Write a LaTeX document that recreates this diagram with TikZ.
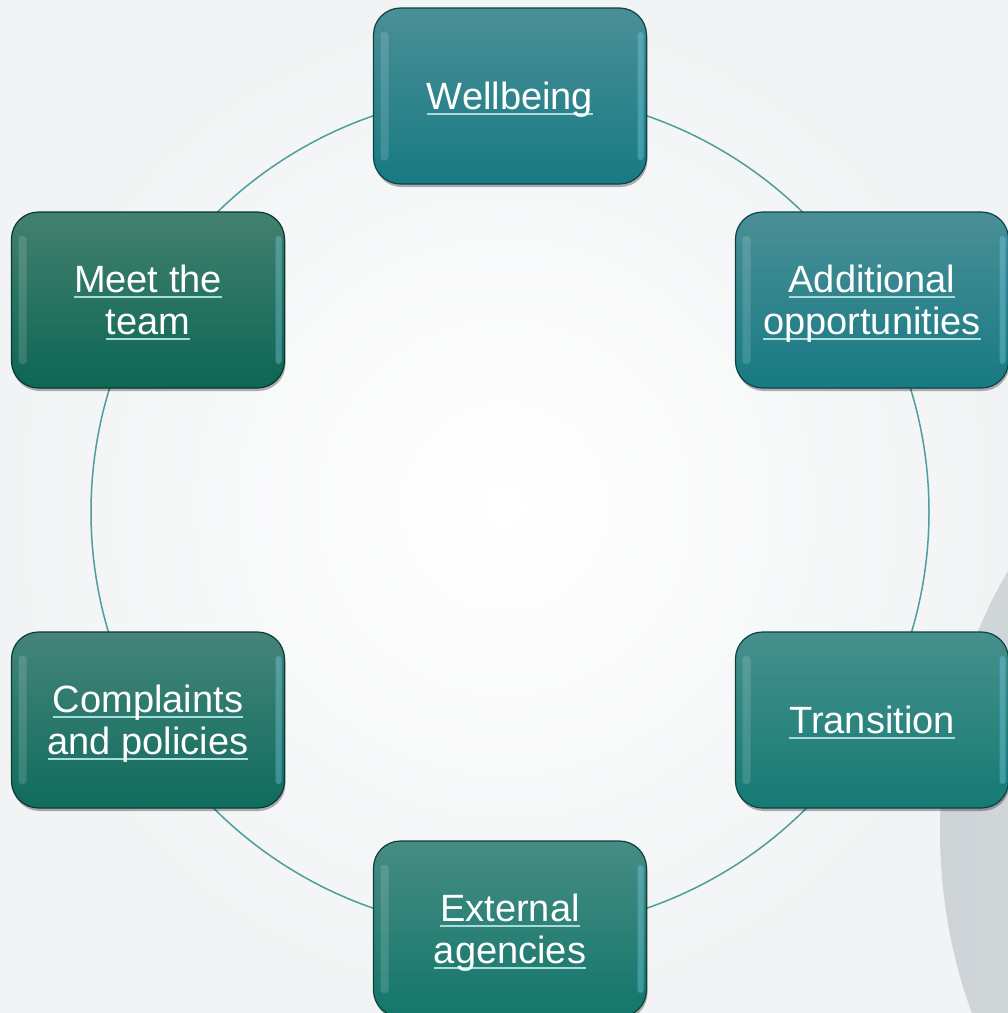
\documentclass[tikz,border=0pt]{standalone}
\usepackage{fontspec}
\setmainfont{Liberation Sans}
\usetikzlibrary{shadows,calc}
\definecolor{ulc}{HTML}{A8DCDC}
\definecolor{ringc}{HTML}{4F9D9D}
\definecolor{wA}{HTML}{4A8F97}\definecolor{wB}{HTML}{1D8089}\definecolor{wC}{HTML}{177A83}
\definecolor{aA}{HTML}{4A8F97}\definecolor{aB}{HTML}{1B7F87}\definecolor{aC}{HTML}{177A82}
\definecolor{tA}{HTML}{46908C}\definecolor{tB}{HTML}{1A807A}\definecolor{tC}{HTML}{157A73}
\definecolor{eA}{HTML}{468C84}\definecolor{eB}{HTML}{187B70}\definecolor{eC}{HTML}{13766A}
\definecolor{cA}{HTML}{45847A}\definecolor{cB}{HTML}{137263}\definecolor{cC}{HTML}{0F6C5D}
\definecolor{mA}{HTML}{43806F}\definecolor{mB}{HTML}{106C5A}\definecolor{mC}{HTML}{0D6654}
\definecolor{bgout}{HTML}{F1F3F4}
\definecolor{grayL}{HTML}{CDD3D6}\definecolor{grayR}{HTML}{E9ECEE}
\newcommand\myul[1]{\setbox0\hbox{#1}\rlap{\color{ulc}\rule[-5pt]{\wd0}{2pt}}\box0}
\tikzset{
  cbox/.style n args={3}{rectangle, rounded corners=27pt, minimum width=273pt,
    minimum height=176pt, top color=#1, middle color=#2, bottom color=#3,
    draw=#3!55!black, line width=1.2pt, text=white, align=center,
    font=\fontsize{38}{42}\selectfont, inner sep=0pt, text depth=0pt,
    drop shadow={shadow xshift=1pt, shadow yshift=-3pt, opacity=0.3, fill=black},
    path picture={
      \fill[white,opacity=0.14,rounded corners=3pt]
        ([xshift=7pt,yshift=-24pt]path picture bounding box.north west) rectangle
        ([xshift=15pt,yshift=24pt]path picture bounding box.south west);
      \fill[cyan!50!white,opacity=0.35,rounded corners=3pt]
        ([xshift=-9pt,yshift=-24pt]path picture bounding box.north east) rectangle
        ([xshift=-3pt,yshift=24pt]path picture bounding box.south east);
    }},
  ring/.style={circle, draw=ringc, line width=1.5pt, minimum size=838pt, inner sep=0pt}
}
\begin{document}
\begin{tikzpicture}[x=1pt,y=-1pt]
\useasboundingbox (0,0) rectangle (1008,1013);
\shade[inner color=white, outer color=bgout] (0,0) rectangle (1008,1013);
\shade[left color=grayL, right color=grayR] (1260,830) ellipse [x radius=320pt, y radius=420pt];
\node[ring] (cycle) at (510,512) {};
\node[cbox={wA}{wB}{wC}] (well) at (510,96) {\myul{Wellbeing}};
\node[cbox={aA}{aB}{aC}] (addi) at (872,300) {\myul{Additional}\\\myul{opportunities}};
\node[cbox={tA}{tB}{tC}] (tran) at (872,720) {\myul{Transition}};
\node[cbox={eA}{eB}{eC}] (exte) at (510,929) {\myul{External}\\\myul{agencies}};
\node[cbox={cA}{cB}{cC}] (comp) at (148,720) {\myul{Complaints}\\\myul{and policies}};
\node[cbox={mA}{mB}{mC}] (meet) at (148,300) {\myul{Meet the}\\\myul{team}};
\end{tikzpicture}
\end{document}
